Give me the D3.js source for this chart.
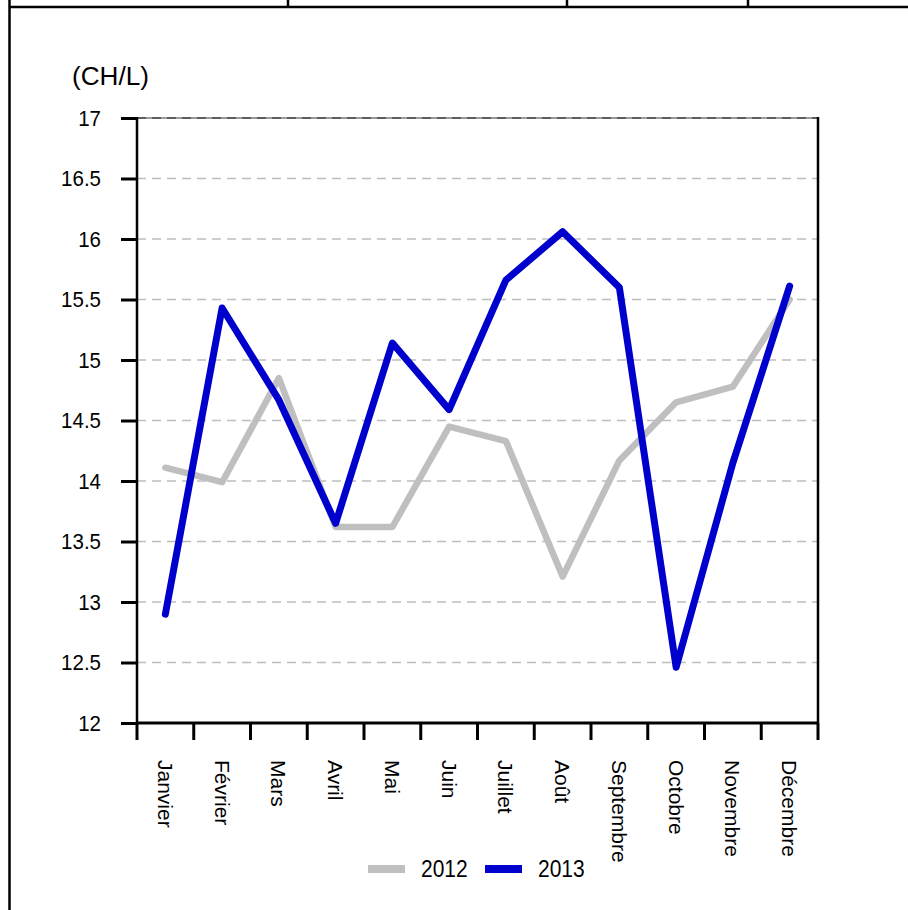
<!DOCTYPE html>
<html>
<head>
<meta charset="utf-8">
<script src="https://cdn.jsdelivr.net/npm/d3@7/dist/d3.min.js"></script>
<style>
  html, body { margin: 0; padding: 0; background: #fff; }
  svg { display: block; font-family: "Liberation Sans", Arial, sans-serif; }
</style>
</head>
<body>
<svg id="chart" width="908" height="910"></svg>
<script>
const months = ["Janvier","Février","Mars","Avril","Mai","Juin","Juillet","Août","Septembre","Octobre","Novembre","Décembre"];
const values2012 = [14.11, 13.99, 14.85, 13.62, 13.62, 14.45, 14.33, 13.21, 14.17, 14.65, 14.78, 15.50];
const values2013 = [12.90, 15.43, 14.67, 13.65, 15.14, 14.59, 15.66, 16.06, 15.60, 12.46, 14.15, 15.61];
const yTicks = [12, 12.5, 13, 13.5, 14, 14.5, 15, 15.5, 16, 16.5, 17];
const yTickLabels = ["12","12.5","13","13.5","14","14.5","15","15.5","16","16.5","17"];
const seriesNames = ["2012", "2013"];
const seriesColors = ["#bfbfbf", "#0000cc"];
const unitLabel = "(CH/L)";

const svg = d3.select("#chart");
const W = 908, H = 910;
const m = { left: 137, right: 818, top: 118, bottom: 723 };
const VS = 1.12; // vertical stretch of horizontal text

// page frame lines
const frame = svg.append("g").attr("stroke", "#000").attr("stroke-width", 2.5);
frame.append("line").attr("x1", 9.5).attr("x2", 9.5).attr("y1", 0).attr("y2", H);
frame.append("line").attr("x1", 9.5).attr("x2", W).attr("y1", 7).attr("y2", 7);
[288, 567, 748].forEach(x => frame.append("line").attr("x1", x).attr("x2", x).attr("y1", 0).attr("y2", 7));

const x = d3.scaleBand().domain(months).range([m.left, m.right]).padding(0);
const y = d3.scaleLinear().domain([12, 17]).range([m.bottom, m.top]);

// top frame (gray)
svg.append("line").attr("x1", m.left).attr("x2", m.right).attr("y1", m.top).attr("y2", m.top)
  .attr("stroke", "#9a9a9a").attr("stroke-width", 2);

// gridlines
svg.append("g").selectAll("line").data(yTicks.filter(t => t > 12)).join("line")
  .attr("x1", m.left).attr("x2", m.right)
  .attr("y1", d => y(d)).attr("y2", d => y(d))
  .attr("stroke", d => d === 17 ? "#222" : "#bdbdbd")
  .attr("stroke-width", d => d === 17 ? 1 : 1.3)
  .attr("stroke-dasharray", "9,6");

// right frame
svg.append("line").attr("x1", m.right).attr("x2", m.right).attr("y1", m.top - 1).attr("y2", m.bottom)
  .attr("stroke", "#000").attr("stroke-width", 2.5);

// y axis
const yAxis = svg.append("g").attr("transform", `translate(${m.left},0)`)
  .call(d3.axisLeft(y).tickValues(yTicks).tickFormat((d, i) => yTickLabels[i]).tickSize(16).tickPadding(20));
yAxis.select(".domain").attr("stroke", "#000").attr("stroke-width", 2.5).attr("d", `M0,${m.top - 1}V${m.bottom}`);
yAxis.selectAll(".tick line").attr("stroke", "#000").attr("stroke-width", 3);
yAxis.selectAll(".tick text")
  .attr("font-size", 20.5).attr("fill", "#000")
  .attr("font-family", "'Liberation Sans', Arial, sans-serif")
  .attr("x", null).attr("dy", null)
  .attr("transform", `translate(-36,0) scale(1,${VS})`)
  .attr("y", 7.2 / VS);

// x axis
const xTickPos = d3.range(13).map(i => m.left + i * x.bandwidth());
const xAxis = svg.append("g");
xAxis.append("line").attr("x1", m.left - 1).attr("x2", m.right + 1).attr("y1", m.bottom).attr("y2", m.bottom)
  .attr("stroke", "#000").attr("stroke-width", 3);
xAxis.selectAll("line.t").data(xTickPos).join("line").attr("class", "t")
  .attr("x1", d => d).attr("x2", d => d).attr("y1", m.bottom).attr("y2", m.bottom + 17)
  .attr("stroke", "#000").attr("stroke-width", 3);
xAxis.selectAll("text").data(months).join("text")
  .attr("transform", d => `translate(${x(d) + x.bandwidth() / 2},760) rotate(90)`)
  .attr("dy", "0.36em")
  .attr("text-anchor", "start")
  .attr("font-size", 21)
  .attr("fill", "#000")
  .text(d => d);

// unit label
svg.append("text").attr("transform", `translate(72,85) scale(1,${VS})`)
  .attr("font-size", 23).attr("fill", "#000")
  .attr("textLength", 77).attr("lengthAdjust", "spacingAndGlyphs").text(unitLabel);

// lines
const line = d3.line().x((d, i) => x(months[i]) + x.bandwidth() / 2).y(d => y(d));
svg.append("path").datum(values2012).attr("d", line).attr("fill", "none")
  .attr("stroke", seriesColors[0]).attr("stroke-width", 6.5).attr("stroke-linejoin", "round").attr("stroke-linecap", "round");
svg.append("path").datum(values2013).attr("d", line).attr("fill", "none")
  .attr("stroke", seriesColors[1]).attr("stroke-width", 7).attr("stroke-linejoin", "round").attr("stroke-linecap", "round");

// legend
const legendItems = [{ x: 368, tx: 421 }, { x: 485, tx: 538 }];
legendItems.forEach((it, i) => {
  svg.append("line").attr("x1", it.x).attr("x2", it.x + 37).attr("y1", 869).attr("y2", 869)
    .attr("stroke", seriesColors[i]).attr("stroke-width", 8);
  svg.append("text").attr("transform", `translate(${it.tx},877) scale(1,${VS})`)
    .attr("font-size", 21).attr("fill", "#000").text(seriesNames[i]);
});
</script>
</body>
</html>
